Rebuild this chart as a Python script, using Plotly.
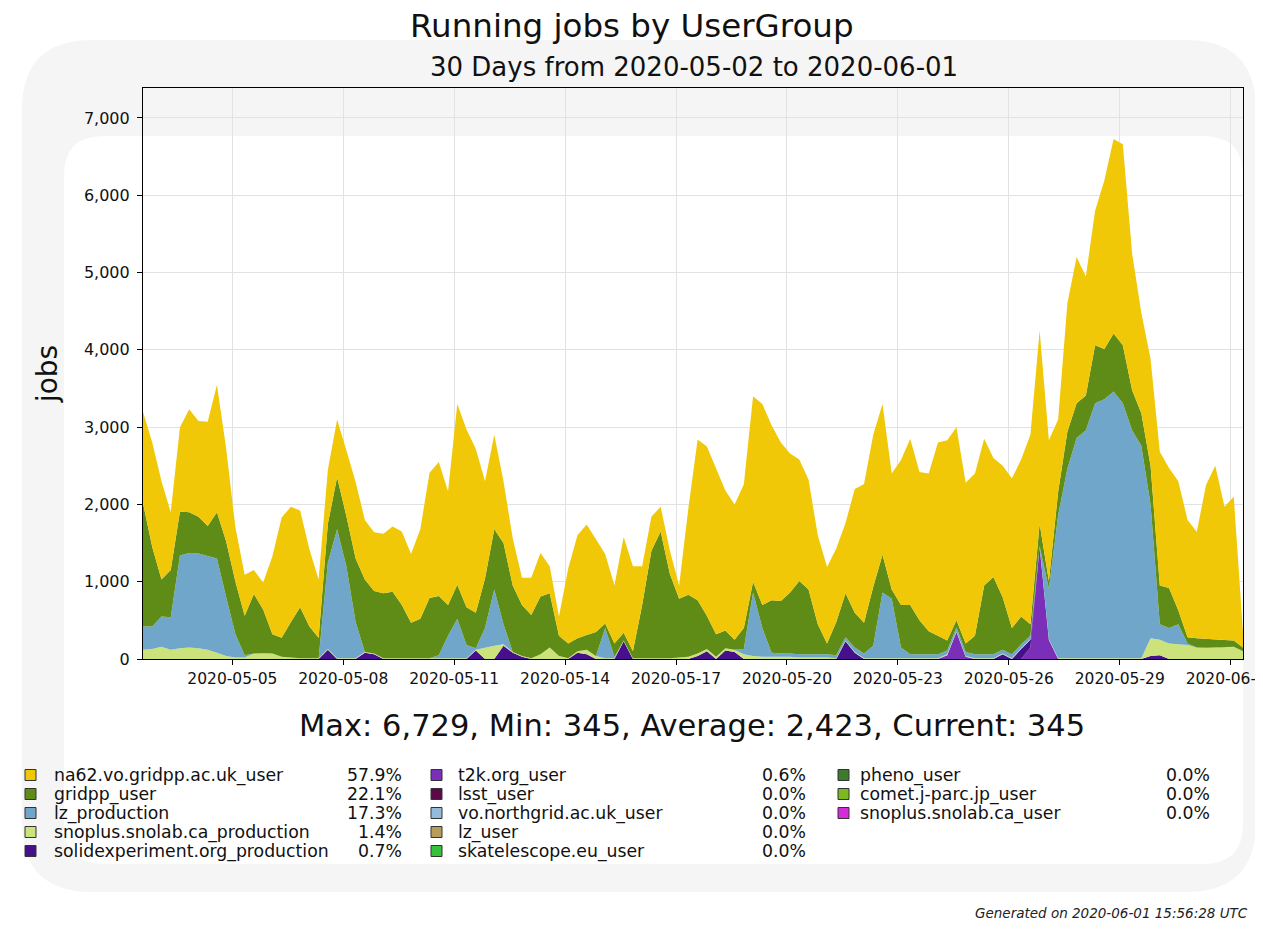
import plotly.graph_objects as go
import pandas as pd

# The page body has an 8px margin, so the figure is drawn at (8, 8) on screen.
OFF = 8
W, H = 1263 - 2 * OFF, 930 - 2 * OFF
PL, PR, PT, PB = 143, 1243, 88, 659  # plot area in screen pixels

# ---------------- data (6-hourly samples) ----------------
times = pd.date_range("2020-05-02 14:00", periods=120, freq="6h")

na62 = [1185, 1350, 1270, 750, 1090, 1330, 1240, 1350, 1650, 1200,
        700, 530, 310, 350, 1010, 1555, 1490, 1250, 1000, 755,
        700, 750, 850, 990, 770, 760, 770, 845, 950, 890,
        1160, 1620, 1735, 1470, 2340, 2300, 2120, 1260, 1220, 800,
        610, 350, 480, 560, 350, 250, 970, 1330, 1430, 1200,
        900, 750, 1240, 1100, 500, 440, 320, 300, 170, 1120,
        2080, 2190, 2140, 1810, 1750, 1860, 2400, 2600, 2265, 2050,
        1800, 1570, 1420, 1150, 990, 950, 910, 1600, 1795, 1965,
        1950, 1500, 1875, 2150, 1920, 2040, 2500, 2590, 2500, 2080,
        2100, 1900, 1540, 1700, 1940, 2030, 2450, 2500, 1820, 940,
        1660, 1890, 1540, 1740, 2180, 2519, 2600, 1770, 1300, 1380,
        1730, 1550, 1670, 1520, 1375, 1990, 2250, 1725, 1860, 195]

gridpp = [1595, 1030, 480, 610, 570, 530, 475, 390, 600, 720,
          680, 510, 770, 565, 250, 245, 460, 660, 410, 265,
          500, 670, 650, 820, 940, 810, 840, 860, 690, 460,
          510, 780, 765, 400, 440, 490, 460, 640, 780, 1050,
          860, 660, 560, 750, 700, 260, 190, 170, 190, 310,
          60, 170, 100, 90, 690, 1390, 1640, 1090, 760, 800,
          690, 430, 290, 230, 130, 270, 140, 300, 680, 680,
          790, 950, 840, 390, 140, 430, 570, 450, 400, 765,
          490, 120, 550, 640, 440, 300, 240, 130, 90, 110,
          240, 890, 1000, 680, 340, 360, 150, 290, 100, 300,
          480, 450, 450, 750, 650, 750, 750, 520, 420, 500,
          500, 520, 180, 80, 120, 115, 100, 85, 80, 50]

lz_production = [300, 290, 390, 420, 1200, 1220, 1225, 1210, 1220, 760,
                 300, 30, 0, 0, 0, 0, 0, 0, 0, 0,
                 1120, 1670, 1190, 470, 0, 0, 0, 0, 0, 0,
                 0, 0, 40, 290, 510, 170, 20, 250, 730, 260,
                 0, 0, 0, 0, 0, 0, 0, 0, 0, 0,
                 390, 20, 0, 0, 0, 0, 0, 0, 0, 0,
                 0, 0, 0, 0, 0, 70, 820, 370, 50, 40,
                 40, 40, 40, 40, 40, 40, 40, 60, 60, 160,
                 850, 770, 140, 50, 50, 50, 50, 50, 50, 50,
                 50, 50, 50, 50, 50, 50, 40, 0, 650, 1850,
                 2450, 2850, 2950, 3300, 3350, 3450, 3300, 2950, 2750, 1730,
                 200, 200, 260, 20, 0, 0, 0, 0, 0, 0]

snoplus_production = [120, 130, 160, 120, 140, 150, 140, 120, 80, 40,
                      20, 20, 70, 75, 70, 30, 20, 10, 10, 10,
                      10, 10, 10, 10, 10, 10, 10, 10, 10, 10,
                      10, 10, 10, 10, 10, 10, 10, 150, 170, 20,
                      10, 10, 10, 60, 150, 40, 10, 20, 60, 40,
                      10, 10, 10, 10, 10, 10, 10, 10, 20, 30,
                      30, 30, 30, 30, 30, 60, 40, 30, 30, 30,
                      30, 20, 20, 20, 20, 10, 10, 10, 10, 10,
                      10, 10, 10, 10, 10, 10, 10, 10, 10, 10,
                      10, 10, 10, 10, 10, 10, 10, 10, 10, 10,
                      10, 10, 10, 10, 10, 10, 10, 10, 10, 230,
                      200, 200, 190, 180, 150, 145, 150, 160, 160, 100]

solid_production = [0, 0, 0, 0, 0, 0, 0, 0, 0, 0,
                    0, 0, 0, 0, 0, 0, 0, 0, 0, 0,
                    120, 0, 0, 0, 80, 60, 0, 0, 0, 0,
                    0, 0, 0, 0, 0, 0, 110, 0, 0, 170,
                    80, 30, 0, 0, 0, 0, 0, 80, 60, 0,
                    0, 0, 230, 0, 0, 0, 0, 0, 0, 0,
                    40, 100, 0, 110, 90, 0, 0, 0, 0, 0,
                    0, 0, 0, 0, 0, 0, 230, 80, 0, 0,
                    0, 0, 0, 0, 0, 0, 0, 0, 0, 0,
                    0, 0, 0, 60, 0, 130, 100, 0, 0, 0,
                    0, 0, 0, 0, 0, 0, 0, 0, 0, 40,
                    50, 0, 0, 0, 0, 0, 0, 0, 0, 0]

t2k = [0, 0, 0, 0, 0, 0, 0, 0, 0, 0,
       0, 0, 0, 0, 0, 0, 0, 0, 0, 0,
       0, 0, 0, 0, 0, 0, 0, 0, 0, 0,
       0, 0, 0, 0, 0, 0, 0, 0, 0, 0,
       0, 0, 0, 0, 0, 0, 0, 0, 0, 0,
       0, 0, 0, 0, 0, 0, 0, 0, 0, 0,
       0, 0, 0, 0, 0, 0, 0, 0, 0, 0,
       0, 0, 0, 0, 0, 0, 0, 0, 0, 0,
       0, 0, 0, 0, 0, 0, 0, 50, 350, 30,
       0, 0, 0, 0, 0, 0, 150, 1450, 250, 0,
       0, 0, 0, 0, 0, 0, 0, 0, 0, 0,
       0, 0, 0, 0, 0, 0, 0, 0, 0, 0]

y_ticks = [0, 1000, 2000, 3000, 4000, 5000, 6000, 7000]
y_max = 7388

legend_names = ["na62.vo.gridpp.ac.uk_user", "gridpp_user", "lz_production",
                "snoplus.snolab.ca_production", "solidexperiment.org_production",
                "t2k.org_user", "lsst_user", "vo.northgrid.ac.uk_user", "lz_user",
                "skatelescope.eu_user",
                "pheno_user", "comet.j-parc.jp_user", "snoplus.snolab.ca_user"]
legend_pcts = ["57.9%", "22.1%", "17.3%", "1.4%", "0.7%",
               "0.6%", "0.0%", "0.0%", "0.0%", "0.0%",
               "0.0%", "0.0%", "0.0%"]
legend_colors = ["#F0C808", "#5E8C16", "#6FA6CA", "#CCE27A", "#46108C",
                 "#7B2FB8", "#5A0A46", "#94BCDA", "#B89C5C", "#33C23A",
                 "#3E7A2E", "#7DB821", "#D42CDA"]

title = "Running jobs by UserGroup"
subtitle = "30 Days from 2020-05-02 to 2020-06-01"
stats = "Max: 6,729, Min: 345, Average: 2,423, Current: 345"
generated = "Generated on 2020-06-01 15:56:28 UTC"

# stacking order bottom -> top
stack = [
    ("t2k.org_user", t2k, "#7B2FB8"),
    ("solidexperiment.org_production", solid_production, "#46108C"),
    ("snoplus.snolab.ca_production", snoplus_production, "#CCE27A"),
    ("lz_production", lz_production, "#6FA6CA"),
    ("gridpp_user", gridpp, "#5E8C16"),
    ("na62.vo.gridpp.ac.uk_user", na62, "#F0C808"),
]

FONT = "DejaVu Sans"


def px(x):
    return (x - PL) / (PR - PL)


def py(y):
    return (PB - y) / (PB - PT)


fig = go.Figure()
for name, vals, col in stack:
    fig.add_trace(go.Scatter(
        x=times, y=vals, name=name, mode="lines", stackgroup="one",
        line=dict(width=0, color=col), fillcolor=col, showlegend=False,
        hoverinfo="x+y+name"))

shapes = []


def rounded_rect(x0, y0, x1, y1, r):
    return (f"M {px(x0+r)} {py(y0)} L {px(x1-r)} {py(y0)} "
            f"Q {px(x1)} {py(y0)} {px(x1)} {py(y0+r)} L {px(x1)} {py(y1-r)} "
            f"Q {px(x1)} {py(y1)} {px(x1-r)} {py(y1)} L {px(x0+r)} {py(y1)} "
            f"Q {px(x0)} {py(y1)} {px(x0)} {py(y1-r)} L {px(x0)} {py(y0+r)} "
            f"Q {px(x0)} {py(y0)} {px(x0+r)} {py(y0)} Z")


# faint watermark-like rounded frame
shapes.append(dict(type="path", xref="paper", yref="paper", layer="below",
                   path=rounded_rect(22, 40, 1256, 892, 70),
                   fillcolor="#F5F5F5", line=dict(width=0)))
shapes.append(dict(type="path", xref="paper", yref="paper", layer="below",
                   path=rounded_rect(64, 136, 1243, 864, 40),
                   fillcolor="#FFFFFF", line=dict(width=0)))

annotations = []
annotations.append(dict(text=title, xref="paper", yref="paper", x=px(632), y=py(26),
                        showarrow=False, xanchor="center", yanchor="middle",
                        font=dict(family=FONT, size=32.5, color="#111")))
annotations.append(dict(text=subtitle, xref="paper", yref="paper", x=px(694), y=py(67),
                        showarrow=False, xanchor="center", yanchor="middle",
                        font=dict(family=FONT, size=26, color="#111")))
annotations.append(dict(text=stats, xref="paper", yref="paper", x=px(692), y=py(725),
                        showarrow=False, xanchor="center", yanchor="middle",
                        font=dict(family=FONT, size=30.5, color="#111")))
annotations.append(dict(text="<i>" + generated + "</i>", xref="paper", yref="paper",
                        x=px(1250), y=py(913), showarrow=False, xanchor="right",
                        yanchor="middle", font=dict(family=FONT, size=13.5, color="#222")))

# custom legend: 3 columns
col_sq = [25, 431, 838]
col_lbl = [52, 456, 858]
col_pct = [404, 808, 1212]
rows_y = [775, 794, 813, 832, 851]
cols = [range(0, 5), range(5, 10), range(10, 13)]
for c, idxs in enumerate(cols):
    for r, k in enumerate(idxs):
        yc = rows_y[r]
        shapes.append(dict(type="rect", xref="paper", yref="paper",
                           x0=px(col_sq[c]), x1=px(col_sq[c] + 11),
                           y0=py(yc + 5.5), y1=py(yc - 5.5),
                           fillcolor=legend_colors[k], line=dict(color="#333", width=1)))
        annotations.append(dict(text=legend_names[k], xref="paper", yref="paper",
                                x=px(col_lbl[c]), y=py(yc), showarrow=False,
                                xanchor="left", yanchor="middle",
                                font=dict(family=FONT, size=17.3, color="#111")))
        annotations.append(dict(text=legend_pcts[k], xref="paper", yref="paper",
                                x=px(col_pct[c]), y=py(yc), showarrow=False,
                                xanchor="right", yanchor="middle",
                                font=dict(family=FONT, size=17.3, color="#111")))

fig.update_layout(
    width=W, height=H, autosize=False,
    margin=dict(l=PL - OFF, r=W - (PR - OFF), t=PT - OFF, b=H - (PB - OFF), pad=0),
    paper_bgcolor="white", plot_bgcolor="rgba(0,0,0,0)",
    shapes=shapes, annotations=annotations, showlegend=False,
    font=dict(family=FONT, color="#111"),
)
fig.update_xaxes(
    type="date", range=[times[0], times[-1]], automargin=False,
    tick0="2020-05-05", dtick=3 * 86400000, tickformat="%Y-%m-%d",
    ticklabeloverflow="allow",
    showgrid=True, gridcolor="#E2E2E2", gridwidth=1,
    showline=True, linecolor="black", linewidth=1.2, mirror=True,
    ticks="outside", ticklen=5, tickcolor="black",
    tickfont=dict(family=FONT, size=15.5, color="#111"),
)
fig.update_yaxes(
    range=[0, y_max], tickvals=y_ticks, tickformat=",d", automargin=False,
    showgrid=True, gridcolor="#E2E2E2", gridwidth=1,
    showline=True, linecolor="black", linewidth=1.2, mirror=True,
    ticks="outside", ticklen=5, tickcolor="black", ticklabelstandoff=4,
    tickfont=dict(family=FONT, size=16, color="#111"),
    title=dict(text="jobs", font=dict(family=FONT, size=28, color="#111"), standoff=18),
    zeroline=False,
)

fig.write_html("out.html")
